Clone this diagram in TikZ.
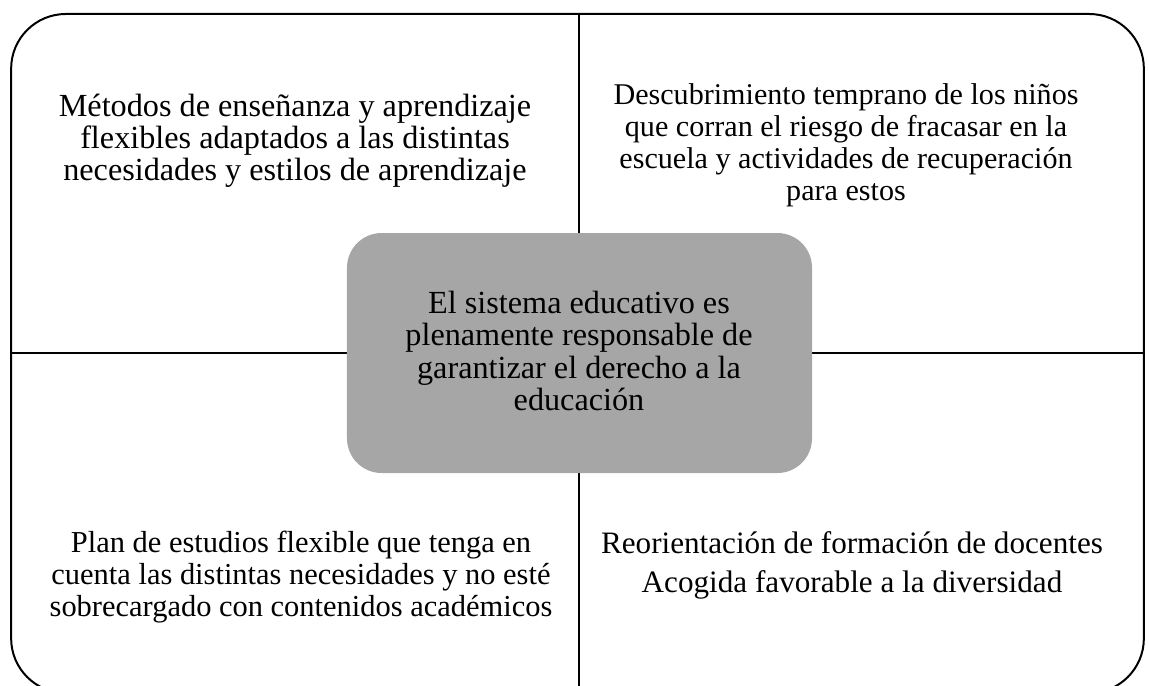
\documentclass[tikz,border=0pt]{standalone}
\usepackage{fontspec}
\setmainfont{Liberation Serif}
\tikzset{
    texto/.style={font=\fontsize{13.75}{13.7}\selectfont, align=center},
}
\begin{document}
\begin{tikzpicture}[x=0.15mm, y=-0.15mm]
    \useasboundingbox (0, 0) rectangle (1149, 685);

    \node[draw, line width=0.85pt, rounded corners=8.2mm, minimum width=169.9mm, minimum height=101.85mm, inner sep=0pt] (marco) at (577.5, 353.5) {};

    \draw[line width=0.7pt] (marco.north -| 579, 0) -- (marco.south -| 579, 0);
    \draw[line width=0.7pt] (marco.west |- 0, 353) -- (marco.east |- 0, 353);

    \node[fill={rgb,255:red,166;green,166;blue,166}, rounded corners=5.2mm, minimum width=69.75mm, minimum height=36mm, inner sep=0pt] (centro) at (579.5, 353) {};
    \node[texto] (sistema) at (579, 351) {El sistema educativo es\\plenamente responsable de\\garantizar el derecho a la\\educación};

    \node[texto] (metodos) at (295, 141) {Métodos de enseñanza y aprendizaje\\flexibles adaptados a las distintas\\necesidades y estilos de aprendizaje};
    \node[texto, font=\fontsize{12.85}{13.7}\selectfont] (descubrimiento) at (846, 145) {Descubrimiento temprano de los niños\\que corran el riesgo de fracasar en la\\escuela y actividades de recuperación\\para estos};
    \node[texto, font=\fontsize{13}{13.7}\selectfont] (plan) at (301, 577) {Plan de estudios flexible que tenga en\\cuenta las distintas necesidades y no esté\\sobrecargado con contenidos académicos};
    \node[texto, font=\fontsize{13.3}{13.7}\selectfont] (docentes) at (852, 565) {Reorientación de formación de docentes\\[3pt]Acogida favorable a la diversidad};
\end{tikzpicture}
\end{document}
